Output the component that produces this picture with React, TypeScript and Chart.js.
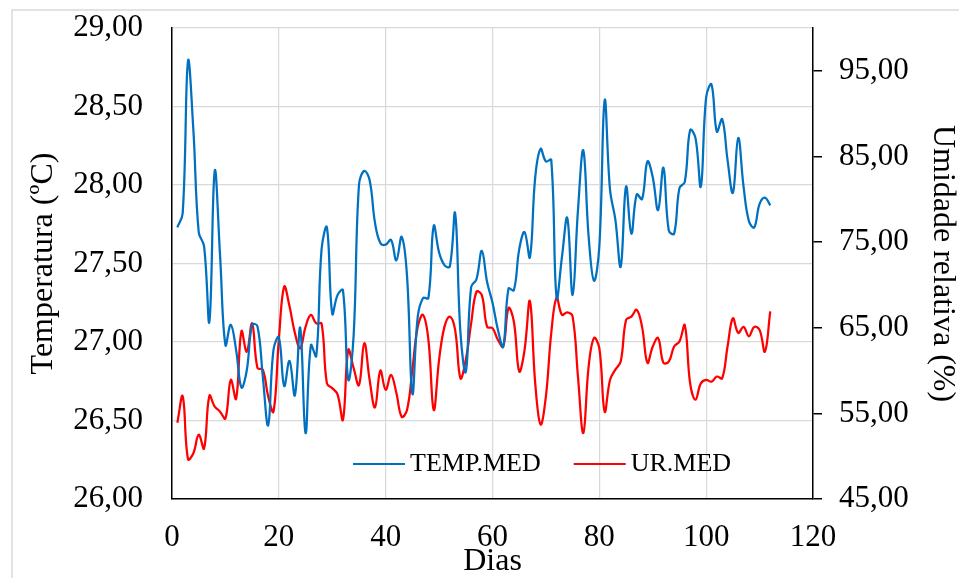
import React, { useEffect, useRef } from 'react';
import { Chart, registerables } from 'chart.js';

Chart.register(...registerables);

const FONT = "'Liberation Serif', 'Times New Roman', serif";

const days: number[] = Array.from({ length: 112 }, (_, i) => i + 1);

const tempMed: number[] = [
  27.73, 27.82, 28.79, 28.35, 27.70, 27.61, 27.13, 28.09, 27.55, 26.98,
  27.11, 26.95, 26.71, 26.82, 27.11, 27.10, 26.78, 26.47, 26.95, 27.03,
  26.72, 26.88, 26.66, 27.09, 26.42, 26.98, 26.91, 27.59, 27.73, 27.18,
  27.30, 27.33, 26.76, 27.04, 28.00, 28.09, 28.03, 27.76, 27.63, 27.62,
  27.65, 27.52, 27.67, 27.42, 26.67, 27.16, 27.28, 27.28, 27.74, 27.57,
  27.49, 27.48, 27.82, 27.06, 26.81, 27.35, 27.40, 27.58, 27.38, 27.25,
  27.08, 26.97, 27.34, 27.33, 27.59, 27.70, 27.54, 28.05, 28.23, 28.15,
  28.16, 27.28, 27.54, 27.79, 27.30, 27.84, 28.22, 27.67, 27.39, 27.61,
  28.54, 27.97, 27.78, 27.48, 27.99, 27.69, 27.94, 27.91, 28.15, 28.05,
  27.84, 28.11, 27.71, 27.69, 27.98, 28.02, 28.35, 28.30, 27.99, 28.56,
  28.64, 28.34, 28.42, 28.16, 27.95, 28.30, 27.99, 27.77, 27.73, 27.88,
  27.92, 27.87,
];

const urMed: number[] = [
  53.9, 57.0, 49.65, 50.35, 52.5, 50.9, 57.05, 55.8, 55.2, 54.4,
  58.9, 56.7, 64.6, 62.2, 65.5, 60.3, 60.1, 57.0, 55.2, 63.6,
  69.8, 67.5, 64.4, 62.6, 65.1, 66.5, 65.5, 65.5, 58.5, 57.95,
  57.2, 54.25, 62.4, 60.3, 58.3, 63.2, 58.9, 55.7, 60.0, 57.75,
  59.5, 57.4, 54.6, 55.4, 60.1, 65.1, 66.5, 63.6, 55.4, 61.25,
  65.1, 66.3, 64.75, 59.1, 61.25, 65.5, 69.2, 68.8, 65.1, 64.95,
  63.6, 62.8, 67.3, 65.7, 59.9, 62.4, 68.1, 58.5, 53.7, 57.0,
  64.4, 68.5, 66.5, 66.8, 66.3, 59.3, 52.7, 60.5, 63.8, 62.6,
  55.2, 58.9, 60.1, 61.05, 65.9, 66.3, 67.1, 65.1, 60.9, 62.8,
  63.8, 60.9, 61.05, 62.8, 63.4, 65.3, 58.5, 56.6, 58.5, 58.9,
  58.7, 59.3, 59.1, 62.8, 66.1, 64.4, 65.1, 64.0, 65.1, 64.75,
  62.2, 66.9,
];

const xTicks: number[] = [0, 20, 40, 60, 80, 100, 120];
const leftTicks: number[] = [26, 26.5, 27, 27.5, 28, 28.5, 29];
const rightTicks: number[] = [45, 55, 65, 75, 85, 95];

const fmt = (v: number) => Number(v).toFixed(2).replace('.', ',');

const outerBorder = {
  id: 'outerBorder',
  beforeDraw(chart: any) {
    const { ctx, width, height } = chart;
    ctx.save();
    ctx.fillStyle = '#ffffff';
    ctx.fillRect(0, 0, width, height);
    ctx.strokeStyle = '#d9d9d9';
    ctx.lineWidth = 1.5;
    ctx.beginPath();
    ctx.moveTo(12, height);
    ctx.lineTo(12, 10);
    ctx.lineTo(width, 10);
    ctx.stroke();
    ctx.restore();
  },
};

const insideLegend = {
  id: 'insideLegend',
  afterDraw(chart: any) {
    const { ctx, chartArea } = chart;
    ctx.save();
    ctx.font = `26px ${FONT}`;
    ctx.textBaseline = 'middle';
    ctx.textAlign = 'left';
    let x = chartArea.left + 181;
    const y = chartArea.bottom - 35;
    chart.data.datasets.forEach((ds: any) => {
      ctx.strokeStyle = ds.borderColor;
      ctx.lineWidth = 2;
      ctx.beginPath();
      ctx.moveTo(x, y);
      ctx.lineTo(x + 52, y);
      ctx.stroke();
      ctx.fillStyle = '#000000';
      ctx.fillText(ds.label, x + 57, y);
      x += 57 + ctx.measureText(ds.label).width + 33;
    });
    ctx.restore();
  },
};

export default function App() {
  const canvasRef = useRef<HTMLCanvasElement | null>(null);

  useEffect(() => {
    if (!canvasRef.current) return;
    const chart = new Chart(canvasRef.current, {
      type: 'line',
      data: {
        datasets: [
          {
            label: 'TEMP.MED',
            data: days.map((d, i) => ({ x: d, y: tempMed[i] })),
            borderColor: '#0070C0',
            backgroundColor: '#0070C0',
            borderWidth: 2.25,
            pointRadius: 0,
            tension: 0.4,
            yAxisID: 'y',
          },
          {
            label: 'UR.MED',
            data: days.map((d, i) => ({ x: d, y: urMed[i] })),
            borderColor: '#FF0000',
            backgroundColor: '#FF0000',
            borderWidth: 2.25,
            pointRadius: 0,
            tension: 0.4,
            yAxisID: 'y1',
          },
        ],
      },
      options: {
        responsive: false,
        animation: false,
        layout: { padding: { top: 28, left: 0, right: 0, bottom: 0 } },
        plugins: {
          legend: { display: false },
          tooltip: { enabled: false },
        },
        scales: {
          x: {
            type: 'linear',
            min: 0,
            max: 120,
            afterBuildTicks: (s: any) => {
              s.ticks = xTicks.map((v) => ({ value: v }));
            },
            afterFit: (s: any) => {
              s.height = 79;
              s.paddingLeft = 0;
              s.paddingRight = 0;
            },
            grid: { color: '#d9d9d9', lineWidth: 1.25, drawTicks: false },
            border: { color: '#000000', width: 1.5 },
            ticks: {
              color: '#000000',
              font: { family: FONT, size: 31 },
              padding: 20,
              maxRotation: 0,
              autoSkip: false,
            },
            title: {
              display: true,
              text: 'Dias',
              color: '#000000',
              font: { family: FONT, size: 32, lineHeight: 1 },
              padding: 0,
            },
          },
          y: {
            type: 'linear',
            position: 'left',
            min: 26,
            max: 29,
            afterBuildTicks: (s: any) => {
              s.ticks = leftTicks.map((v) => ({ value: v }));
            },
            afterFit: (s: any) => {
              s.width = 172;
              s.paddingTop = 0;
              s.paddingBottom = 0;
            },
            grid: { color: '#d9d9d9', lineWidth: 1.25, drawTicks: false },
            border: { color: '#000000', width: 1.5 },
            ticks: {
              color: '#000000',
              font: { family: FONT, size: 31 },
              padding: 29,
              callback: (v: any) => fmt(v),
            },
            title: {
              display: true,
              text: 'Temperatura (ºC)',
              color: '#000000',
              font: { family: FONT, size: 32, lineHeight: 1 },
              padding: { top: 28, bottom: 0 },
            },
          },
          y1: {
            type: 'linear',
            position: 'right',
            min: 45,
            max: 100,
            afterBuildTicks: (s: any) => {
              s.ticks = rightTicks.map((v) => ({ value: v }));
            },
            afterFit: (s: any) => {
              s.width = 146;
              s.paddingTop = 0;
              s.paddingBottom = 0;
            },
            grid: {
              display: true,
              drawOnChartArea: false,
              drawTicks: true,
              tickLength: 9,
              color: '#000000',
              lineWidth: 1.5,
            },
            border: { color: '#000000', width: 1.5 },
            ticks: {
              color: '#000000',
              font: { family: FONT, size: 31 },
              padding: 17,
              callback: (v: any) => fmt(v),
            },
            title: {
              display: true,
              text: 'Umidade relativa (%)',
              color: '#000000',
              font: { family: FONT, size: 32, lineHeight: 1 },
              padding: { top: 1, bottom: 0 },
            },
          },
        },
      } as any,
      plugins: [outerBorder, insideLegend],
    });
    return () => chart.destroy();
  }, []);

  return (
    <div style={{ position: 'fixed', left: 0, top: 0, width: 959, height: 578, background: '#fff' }}>
      <canvas ref={canvasRef} width={959} height={578} style={{ display: 'block', width: 959, height: 578 }} />
    </div>
  );
}
